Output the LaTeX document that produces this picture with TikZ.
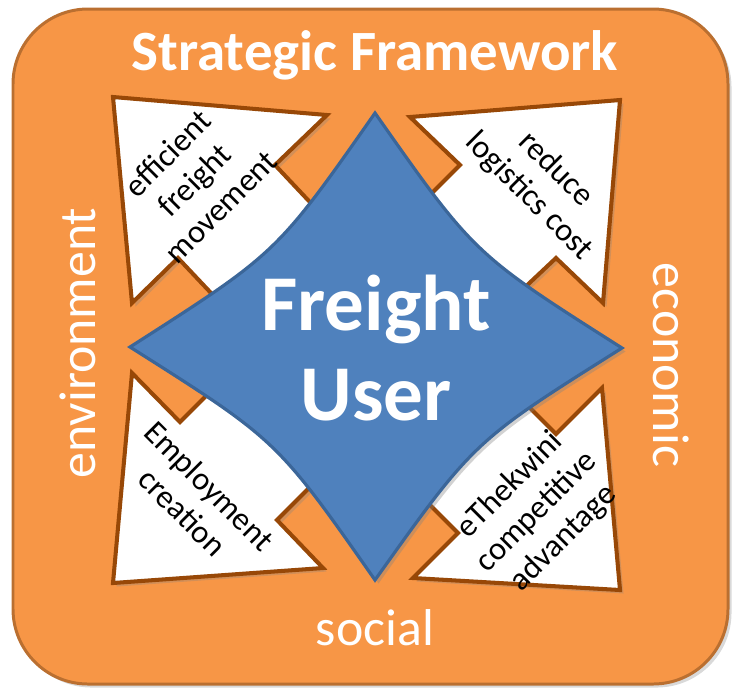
\documentclass[tikz,border=0pt]{standalone}
\usepackage{fontspec}
\setmainfont{Carlito}
\usetikzlibrary{shadows}

\definecolor{frameorange}{HTML}{F79646}
\definecolor{frameedge}{HTML}{BA6F30}
\definecolor{arrowedge}{HTML}{984807}
\definecolor{starblue}{HTML}{4F81BD}
\definecolor{staredge}{HTML}{3B6699}

\tikzset{
	frame/.style={fill=frameorange, draw=frameedge, line width=1.7pt, rounded corners=1.5cm,
		drop shadow={shadow xshift=2pt, shadow yshift=-2pt, opacity=0.3}},
	cornerarrow/.style={fill=white, draw=arrowedge, line width=2.3pt,
		drop shadow={shadow xshift=2pt, shadow yshift=-2pt, opacity=0.3}},
	freightstar/.style={fill=starblue, draw=staredge, line width=1.8pt,
		drop shadow={shadow xshift=2pt, shadow yshift=-2pt, opacity=0.35}},
	titletext/.style={text=white, font=\fontsize{32.4}{36}\bfseries\selectfont},
	centertext/.style={text=white, font=\fontsize{45}{51}\bfseries\selectfont},
	sidelabel/.style={text=white, font=\fontsize{29.5}{32}\selectfont},
	arrowtext/.style={align=center, inner sep=0pt, font=\fontsize{18.5}{21.5}\selectfont}
}

\begin{document}
\begin{tikzpicture}[x=0.02cm, y=-0.02cm]
	\useasboundingbox ( 0, 0 ) rectangle ( 732, 691 );

	% рамка
	\draw [frame] ( 13, 9 ) rectangle ( 728, 684 );

	% стрелка вверх-влево
	\draw [cornerarrow] ( 113, 97 ) -- ( 327, 115 ) -- ( 275, 165 ) -- ( 355, 250 )
		-- ( 260, 345 ) -- ( 178, 258 ) -- ( 132, 303 ) -- cycle;

	% стрелка вверх-вправо
	\draw [cornerarrow] ( 620, 100 ) -- ( 603, 303 ) -- ( 556, 258 ) -- ( 471, 338 )
		-- ( 380, 245 ) -- ( 460, 165 ) -- ( 410, 117 ) -- cycle;

	% стрелка вниз-влево
	\draw [cornerarrow] ( 113, 583 ) -- ( 132, 373 ) -- ( 180, 422 ) -- ( 265, 337 )
		-- ( 362, 435 ) -- ( 277, 520 ) -- ( 323, 568 ) -- cycle;

	% стрелка вниз-вправо
	\draw [cornerarrow] ( 620, 590 ) -- ( 413, 578 ) -- ( 458, 533 ) -- ( 373, 448 )
		-- ( 471, 349 ) -- ( 556, 434 ) -- ( 602, 388 ) -- cycle;

	% звезда
	\draw [freightstar] ( 375, 113 ) .. controls ( 277, 253 ) .. ( 130, 347 )
		.. controls ( 277, 440 ) .. ( 375, 580 )
		.. controls ( 474, 441 ) .. ( 622, 348 )
		.. controls ( 474, 254 ) .. cycle;

	% подписи
	\node [titletext, anchor=base] (title) at ( 375, 70 ) {Strategic Framework};
	\node [centertext, anchor=base] (freight) at ( 376, 330 ) {Freight};
	\node [centertext, anchor=base] (user) at ( 376, 420 ) {User};

	\node [sidelabel, rotate=90] (environment) at ( 78, 343 ) {environment};
	\node [sidelabel, rotate=-90] (economic) at ( 671, 365 ) {economic};
	\node [sidelabel] (social) at ( 375, 628 ) {social};

	\node [arrowtext, rotate=45] (movement) at ( 194, 180 ) {efficient\\freight\\movement};
	\node [arrowtext, rotate=-45] (logistics) at ( 542, 183 ) {reduce\\logistics cost};
	\node [arrowtext, rotate=-45] (employment) at ( 196, 499 ) {Employment\\creation};
	\node [arrowtext, rotate=45] (advantage) at ( 537, 512 ) {eThekwini\\competitive\\advantage};
\end{tikzpicture}
\end{document}
